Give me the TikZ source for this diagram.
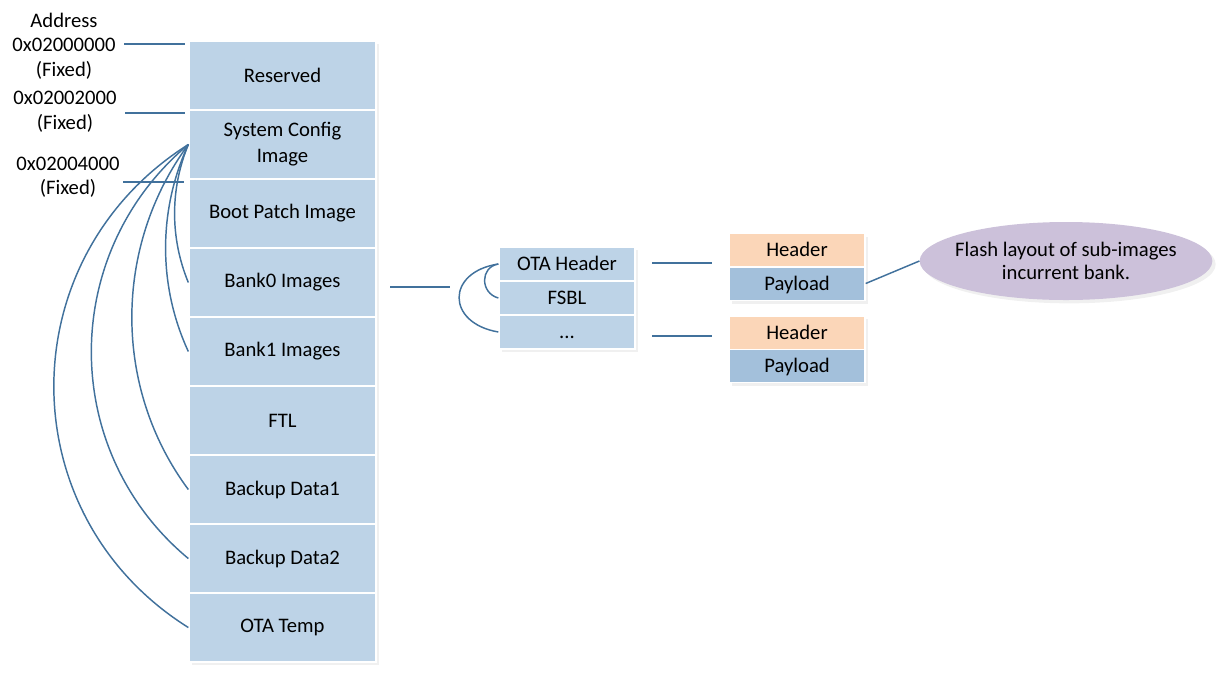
\documentclass[tikz,border=0pt]{standalone}
\usepackage{fontspec}
\setmainfont{Carlito}
\usetikzlibrary{shapes.geometric,shadows}
\definecolor{cellblue}{RGB}{189,211,231}
\definecolor{payblue}{RGB}{163,192,219}
\definecolor{peach}{RGB}{251,214,184}
\definecolor{lav}{RGB}{204,193,218}
\definecolor{wire}{RGB}{65,113,156}
\tikzset{
  txt/.style={font=\fontsize{15.5pt}{19.5pt}\selectfont},
  shad/.style={drop shadow={opacity=0.12, shadow xshift=2.5pt, shadow yshift=-2.5pt}},
  cell/.style={txt, shad, draw=white, line width=1pt, fill=cellblue, minimum width=140.25pt, minimum height=51.75pt, inner sep=0pt, align=center},
  sub/.style={txt, shad, draw=white, line width=1pt, fill=cellblue, minimum width=102pt, minimum height=25.5pt, inner sep=0pt, text height=11pt, text depth=1pt},
  hdr/.style={sub, fill=peach, minimum height=25pt},
  pay/.style={sub, fill=payblue, minimum height=25pt},
  lbl/.style={txt, inner sep=0pt},
  wireline/.style={draw=wire, line width=1.1pt},
}
\begin{document}
\begin{tikzpicture}[x=0.75pt, y=-0.75pt]
\useasboundingbox (0,0) rectangle (1227,676);
% main column
\node[cell] (res) at (282.5, 75.5) {Reserved};
\node[cell] (sc)  at (282.5,144.5) {System Config\\Image};
\node[cell] (bp)  at (282.5,213.5) {Boot Patch Image};
\node[cell] (b0)  at (282.5,282.5) {Bank0 Images};
\node[cell] (b1)  at (282.5,351.5) {Bank1 Images};
\node[cell] (ftl) at (282.5,420.5) {FTL};
\node[cell] (bd1) at (282.5,489.5) {Backup Data1};
\node[cell] (bd2) at (282.5,558.5) {Backup Data2};
\node[cell] (ota) at (282.5,627.5) {OTA Temp};
% address labels
\node[lbl] (addr) at (64,20) {Address};
\node[lbl] (a0) at (64,45) {0x02000000};
\node[lbl] (f0) at (64,70) {(Fixed)};
\node[lbl] (a1) at (65,98) {0x02002000};
\node[lbl] (f1) at (65,123) {(Fixed)};
\node[lbl] (a2) at (68,164) {0x02004000};
\node[lbl] (f2) at (68,188) {(Fixed)};
\coordinate (l0s) at (124,44);  \coordinate (l0e) at (185,44);
\coordinate (l1s) at (125,113); \coordinate (l1e) at (185,113);
\coordinate (l2s) at (123,182); \coordinate (l2e) at (184,182);
\draw[wireline] (l0s) -- (l0e);
\draw[wireline] (l1s) -- (l1e);
\draw[wireline] (l2s) -- (l2e);
% curves from System Config
\draw[wireline] (sc.west) .. controls (170,189) and (170,238) .. (b0.west);
\draw[wireline] (sc.west) .. controls (158,210) and (158,286) .. (b1.west);
\draw[wireline] (sc.west) .. controls (113,247) and (113,388) .. (bd1.west);
\draw[wireline] (sc.west) .. controls (59,253) and (59,451) .. (bd2.west);
\draw[wireline] (sc.west) .. controls (9,258) and (9,515) .. (ota.west);
% middle box
\node[sub] (otah) at (567,264) {OTA Header};
\node[sub] (fsbl) at (567,298) {FSBL};
\node[sub] (dots) at (567,332) {...};
\coordinate (m0) at (390,287); \coordinate (m1) at (450,287);
\draw[wireline] (m0) -- (m1);
\draw[wireline] (otah.west) .. controls (480,267) and (480,293) .. (fsbl.west);
\draw[wireline] (otah.west) .. controls (446,272) and (446,323) .. (dots.west);
% right boxes
\node[hdr] (h1) at (797,250) {Header};
\node[pay] (p1) at (797,283.5) {Payload};
\node[hdr] (h2) at (797,332.5) {Header};
\node[pay] (p2) at (797,366) {Payload};
\coordinate (r0s) at (652,263); \coordinate (r0e) at (712,263);
\coordinate (r1s) at (652,336); \coordinate (r1e) at (712,336);
\draw[wireline] (r0s) -- (r0e);
\draw[wireline] (r1s) -- (r1e);
% ellipse
\node[ellipse, shad, fill=lav, minimum width=219.5pt, minimum height=58.5pt, inner sep=0pt] (note) at (1066,261) {};
\node[align=center, inner sep=0pt, font=\fontsize{15.5pt}{17.3pt}\selectfont] (notetext) at (note.center) {Flash layout of sub-images\\incurrent bank.};
\draw[wireline] (p1.east) -- (note.west);
\end{tikzpicture}
\end{document}
